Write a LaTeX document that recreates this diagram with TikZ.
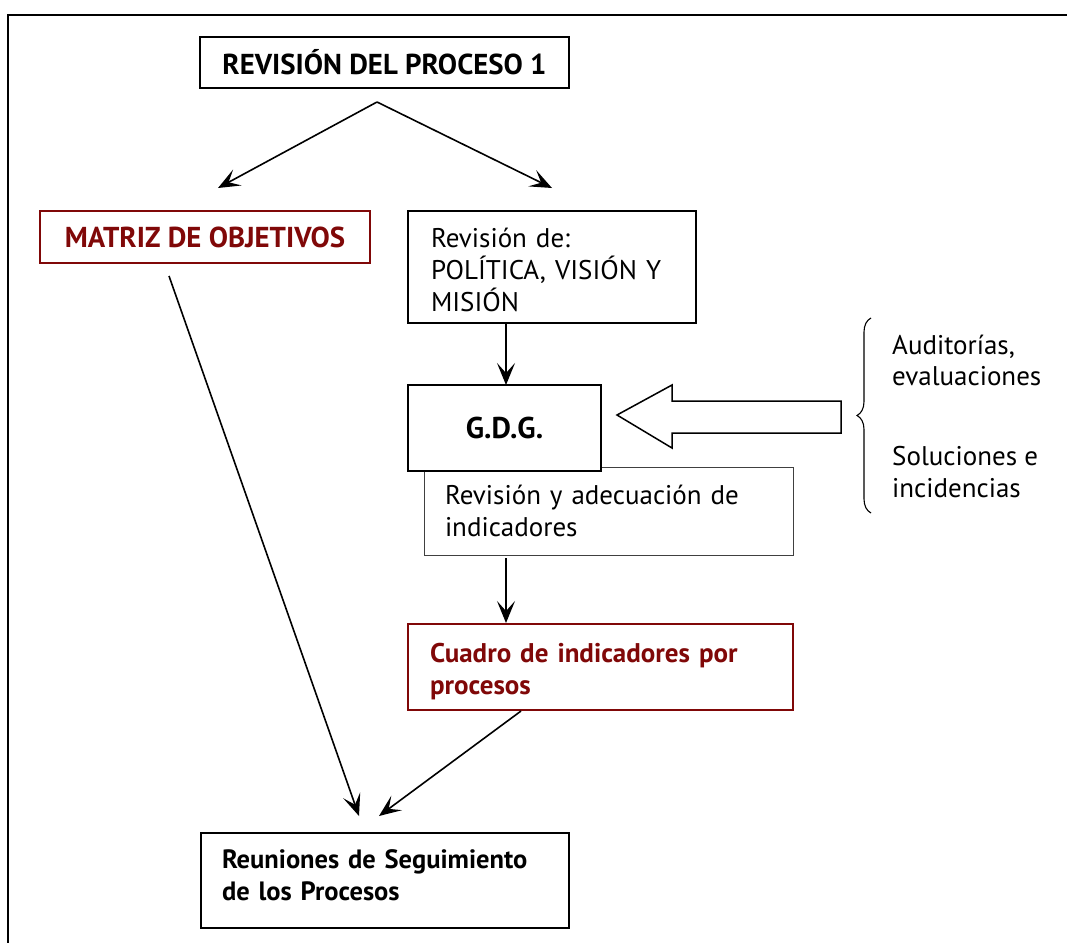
\documentclass[tikz,border=0pt]{standalone}
\usepackage{fontspec}
\setmainfont{PT Sans}
\usetikzlibrary{arrows.meta,decorations.pathreplacing}
\definecolor{darkmaroon}{RGB}{128,8,8}

\begin{document}
\begin{tikzpicture}[x=1pt,y=-1pt,
  txt/.style={font=\fontsize{27}{32}\selectfont},
  btxt/.style={font=\fontsize{27}{32}\selectfont\bfseries},
  capstxt/.style={font=\fontsize{28.8}{32}\selectfont\bfseries},
  box/.style={draw, line width=2pt, rectangle, fill=white, inner sep=0pt},
  redbox/.style={draw=darkmaroon, line width=1.8pt, rectangle, text=darkmaroon, inner sep=0pt},
  thinbox/.style={draw=black!75, line width=1pt, rectangle, inner sep=0pt},
  arr/.style={-{Stealth[length=22pt,width=18pt,inset=10pt]}, line width=1.6pt},
]
\useasboundingbox (0,0) rectangle (1067,942);

% outer frame (runs off the page to the right and bottom)
\draw[line width=2.8pt] (8,960) -- (8,15) -- (1090,15);

% boxes
\node[box, capstxt, minimum width=369pt, minimum height=51pt] (p1) at (384.5,62.5) {REVISIÓN DEL PROCESO 1};
\node[redbox, capstxt, minimum width=330pt, minimum height=52pt] (matriz) at (205,237) {MATRIZ DE OBJETIVOS};
\node[box, txt, inner xsep=23pt, text width=242pt, align=left, minimum height=112pt,
  text height=20pt, text depth=60pt] (revpol) at (552,267)
  {Revisión de:\\POLÍTICA, VISIÓN Y\\MISIÓN};
\node[thinbox, txt, inner xsep=21pt, text width=327pt, align=left, minimum height=88pt,
  text height=20pt, text depth=34pt] (revind) at (608.5,511)
  {Revisión y adecuación de\\indicadores};
\node[box, font=\fontsize{30}{32}\selectfont\bfseries, minimum width=193pt, minimum height=86pt] (gdg) at (504.5,428)
  {G.D.G.};
\node[redbox, btxt, inner xsep=22pt, text width=341pt, align=left, minimum height=86pt,
  text height=20pt, text depth=30pt] (cuadro) at (600.5,667)
  {Cuadro de indicadores por\\procesos};
\node[box, font=\fontsize{26.5}{32}\selectfont\bfseries, inner xsep=21pt, text width=326pt, align=left,
  minimum height=95pt, text height=20pt, text depth=45pt] (reun) at (385,880.5)
  {Reuniones de Seguimiento\\de los Procesos};

% side notes
\node[txt, anchor=base west, inner sep=0pt] (aud) at (892,354) {Auditorías,};
\node[txt, anchor=base west, inner sep=0pt] (eval) at (892,385) {evaluaciones};
\node[txt, anchor=base west, inner sep=0pt] (sol) at (892,465) {Soluciones e};
\node[txt, anchor=base west, inner sep=0pt] (inc) at (892,497) {incidencias};

% brace grouping the side notes
\draw[line width=1.1pt, decorate, decoration={brace, amplitude=14pt}] (871,513) -- (871,318);

% hollow block arrow into G.D.G.
\draw[line width=1.5pt, fill=white] (617,415) -- (672,385) -- (672,401) -- (841,401)
  -- (841,433) -- (672,433) -- (672,448) -- cycle;

% connector end points
\coordinate (apex) at (377,102);
\coordinate (tipL) at (218,188);
\coordinate (tipR) at (552,188);
\coordinate (revpolOut) at (506,323);
\coordinate (gdgIn) at (506,385);
\coordinate (revindOut) at (506,558);
\coordinate (cuadroIn) at (506,623);
\coordinate (matrizOut) at (169,276);
\coordinate (reunInL) at (359,816);
\coordinate (cuadroOut) at (521,711);
\coordinate (reunInR) at (379,816);

% connectors
\draw[arr] (apex) -- (tipL);
\draw[arr] (apex) -- (tipR);
\draw[arr] (revpolOut) -- (gdgIn);
\draw[arr] (revindOut) -- (cuadroIn);
\draw[arr] (matrizOut) -- (reunInL);
\draw[arr] (cuadroOut) -- (reunInR);
\end{tikzpicture}
\end{document}
